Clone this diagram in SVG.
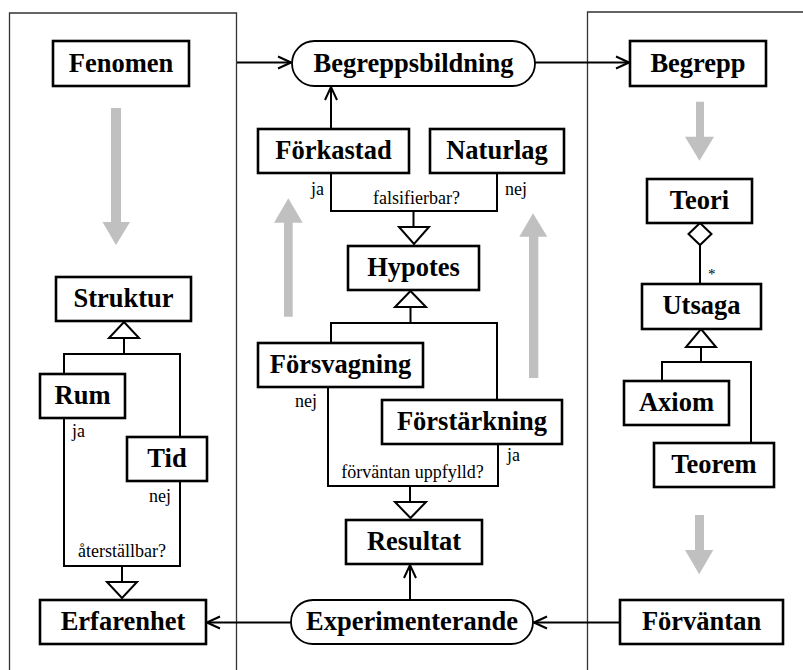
<svg xmlns="http://www.w3.org/2000/svg" width="803" height="670" viewBox="0 0 803 670">
  <style>
    .panel { fill: none; stroke: #333; stroke-width: 1.3; }
    .box { fill: #fff; stroke: #000; stroke-width: 2.6; }
    .proc { fill: #fff; stroke: #000; stroke-width: 1.8; }
    .lbl { font-family: "Liberation Serif", "Times New Roman", serif; font-weight: bold; font-size: 26.5px; text-anchor: middle; fill: #000; }
    .small { font-family: "Liberation Serif", "Times New Roman", serif; font-size: 18px; fill: #000; }
    .line { fill: none; stroke: #000; stroke-width: 2; }
    .arrow { fill: none; stroke: #000; stroke-width: 2; }
    .head { fill: #fff; stroke: #000; stroke-width: 2; }
    .flow { fill: #c0c0c0; stroke: none; }
  </style>
  <defs>
    <marker id="open" viewBox="0 0 16 16" refX="15" refY="8" markerWidth="16" markerHeight="16" markerUnits="userSpaceOnUse" orient="auto">
      <path d="M2,2 L15,8 L2,14" fill="none" stroke="#000" stroke-width="2"/>
    </marker>
  </defs>

  <rect width="803" height="670" fill="#fff"/>

  <!-- panels -->
  <g id="panels">
    <path class="panel" d="M9.5,670 V13 H236.5 V670"/>
    <path class="panel" d="M587.5,670 V12 H803"/>
  </g>

  <!-- broad grey flow arrows -->
  <g id="flows">
    <polygon class="flow" points="111,108 121,108 121,222 130,222 116,245 102.5,222 111,222"/>
    <polygon class="flow" points="284,316.7 292.7,316.7 292.7,222.7 302.7,222.7 288.3,198.3 274,222.7 284,222.7"/>
    <polygon class="flow" points="529,378 538.3,378 538.3,236.7 547.3,236.7 533,213.3 519.3,236.7 529,236.7"/>
    <polygon class="flow" points="696,101.7 704,101.7 704,136.7 714,136.7 699.5,160.7 685,136.7 696,136.7"/>
    <polygon class="flow" points="695,515 704,515 704,550 713.3,550 699.2,574.3 685,550 695,550"/>
  </g>

  <!-- connectors -->
  <g id="connectors">
    <path class="arrow" d="M237,62.5 H291" marker-end="url(#open)"/>
    <path class="arrow" d="M535,62.5 H629" marker-end="url(#open)"/>
    <path class="arrow" d="M331,129 V87" marker-end="url(#open)"/>
    <path class="arrow" d="M410,600 V565" marker-end="url(#open)"/>
    <path class="arrow" d="M620,622.5 H534" marker-end="url(#open)"/>
    <path class="arrow" d="M291,622.5 H207" marker-end="url(#open)"/>

    <!-- falsifierbar? -->
    <path class="line" d="M331,174 V211 H497 V174"/>
    <path class="line" d="M413.5,211 V227"/>
    <polygon class="head" points="399,227 429,227 414,244"/>

    <!-- Hypotes specialisations -->
    <polygon class="head" points="410.5,291 426,307 395,307"/>
    <path class="line" d="M410.5,307 V323"/>
    <path class="line" d="M331,343 V323 H497 V400"/>

    <!-- förväntan uppfylld? -->
    <path class="line" d="M328,387 V486 H498 V445"/>
    <path class="line" d="M410,486 V502"/>
    <polygon class="head" points="395,502 426,502 410.5,518"/>

    <!-- Struktur specialisations -->
    <polygon class="head" points="124,322 139,338 109,338"/>
    <path class="line" d="M124,338 V354"/>
    <path class="line" d="M64,374 V354 H180 V437"/>

    <!-- återställbar? -->
    <path class="line" d="M64,418 V566 H180 V482"/>
    <path class="line" d="M122,566 V582"/>
    <polygon class="head" points="107,582 137,582 122,598"/>

    <!-- Teori aggregates Utsaga -->
    <polygon class="head" points="700,223 711.5,234 700,245 688.5,234"/>
    <path class="line" d="M700,245 V284"/>
    <text class="small" x="708" y="279" style="font-size:15px">*</text>

    <!-- Utsaga specialisations -->
    <polygon class="head" points="701,329 716,347 686,347"/>
    <path class="line" d="M701,347 V362"/>
    <path class="line" d="M662,381 V362 H751 V443"/>

    <!-- branch labels -->
    <text class="small" x="311" y="195">ja</text>
    <text class="small" x="505" y="195">nej</text>
    <text class="small" x="416.5" y="204" text-anchor="middle">falsifierbar?</text>
    <text class="small" x="295" y="407">nej</text>
    <text class="small" x="507" y="461">ja</text>
    <text class="small" x="412.5" y="478" text-anchor="middle">förväntan uppfylld?</text>
    <text class="small" x="72" y="437">ja</text>
    <text class="small" x="171" y="502" text-anchor="end">nej</text>
    <text class="small" x="122" y="557" text-anchor="middle">återställbar?</text>
  </g>

  <!-- nodes -->
  <g id="fenomen"><rect class="box" x="53" y="41" width="136" height="45"/><text class="lbl" x="121" y="72">Fenomen</text></g>
  <g id="struktur"><rect class="box" x="56" y="277" width="135" height="44"/><text class="lbl" x="123.5" y="307">Struktur</text></g>
  <g id="rum"><rect class="box" x="40" y="374" width="85" height="44"/><text class="lbl" x="82.5" y="404">Rum</text></g>
  <g id="tid"><rect class="box" x="127" y="437" width="80" height="44"/><text class="lbl" x="167" y="467">Tid</text></g>
  <g id="erfarenhet"><rect class="box" x="40" y="600" width="166" height="44"/><text class="lbl" x="123" y="630">Erfarenhet</text></g>

  <g id="begreppsbildning"><rect class="proc" x="292" y="41" width="243" height="45" rx="22.5"/><text class="lbl" x="413.5" y="72">Begreppsbildning</text></g>
  <g id="forkastad"><rect class="box" x="258" y="129" width="151" height="44"/><text class="lbl" x="333.5" y="159">Förkastad</text></g>
  <g id="naturlag"><rect class="box" x="430" y="129" width="134" height="44"/><text class="lbl" x="497" y="159">Naturlag</text></g>
  <g id="hypotes"><rect class="box" x="348" y="246" width="131" height="44"/><text class="lbl" x="413.5" y="276">Hypotes</text></g>
  <g id="forsvagning"><rect class="box" x="258" y="343" width="165" height="44"/><text class="lbl" x="340.5" y="373">Försvagning</text></g>
  <g id="forstarkning"><rect class="box" x="382" y="400" width="180" height="44"/><text class="lbl" x="472" y="430">Förstärkning</text></g>
  <g id="resultat"><rect class="box" x="346" y="520" width="136" height="44"/><text class="lbl" x="414" y="550">Resultat</text></g>
  <g id="experimenterande"><rect class="proc" x="291" y="600" width="242" height="44" rx="22"/><text class="lbl" x="412" y="630">Experimenterande</text></g>

  <g id="begrepp"><rect class="box" x="630" y="41" width="136" height="45"/><text class="lbl" x="698" y="72">Begrepp</text></g>
  <g id="teori"><rect class="box" x="647" y="179" width="105" height="44"/><text class="lbl" x="699.5" y="209">Teori</text></g>
  <g id="utsaga"><rect class="box" x="642" y="284" width="119" height="45"/><text class="lbl" x="701.5" y="314">Utsaga</text></g>
  <g id="axiom"><rect class="box" x="624" y="381" width="105" height="44"/><text class="lbl" x="676.5" y="411">Axiom</text></g>
  <g id="teorem"><rect class="box" x="654" y="443" width="120" height="44"/><text class="lbl" x="714" y="473">Teorem</text></g>
  <g id="forvantan"><rect class="box" x="620" y="600" width="163" height="44"/><text class="lbl" x="701.5" y="630">Förväntan</text></g>
</svg>
